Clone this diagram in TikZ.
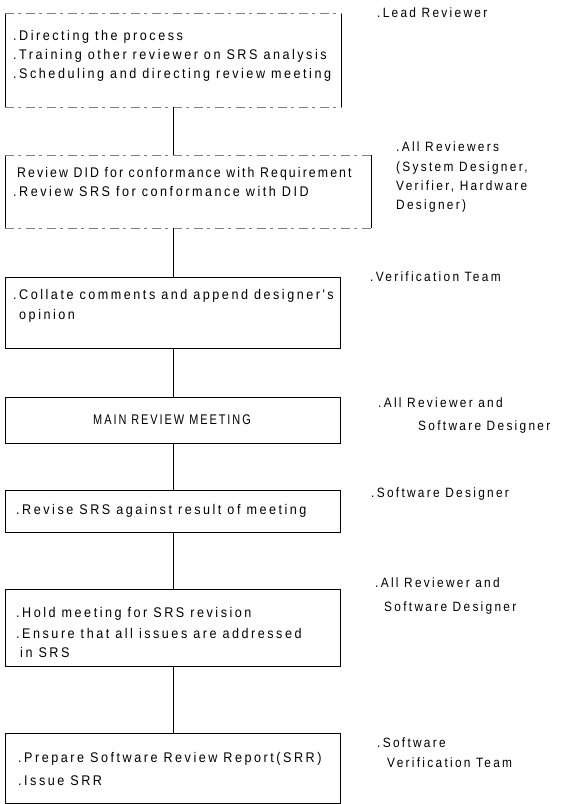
\documentclass[tikz,border=0pt]{standalone}
\usepackage{fontspec}
\newfontfamily\reff[FakeStretch=0.9,LetterSpace=18]{Liberation Sans}
\newfontfamily\refn[FakeStretch=0.88,LetterSpace=15]{Liberation Sans}
\newfontfamily\refl[FakeStretch=0.88,LetterSpace=17]{Liberation Sans}
\newfontfamily\refc[FakeStretch=0.78,LetterSpace=14]{Liberation Sans}
\begin{document}
\begin{tikzpicture}[x=1pt,y=-1pt,
  box/.style={draw, line width=0.8pt, anchor=north west, inner sep=0pt},
  openbox/.style={anchor=north west, inner sep=0pt},
  txt/.style={anchor=mid west, inner sep=0pt, yshift=-2pt, font=\reff\fontsize{14}{16}\selectfont},
  lbl/.style={anchor=mid west, inner sep=0pt, yshift=-2pt, font=\refl\fontsize{13.5}{16}\selectfont},
  link/.style={line width=0.8pt},
  brk/.style={line width=0.6pt, gray, dash pattern=on 9pt off 4pt on 3pt off 5pt}]
\useasboundingbox (0,0) rectangle (561,804);
% boxes
\node[openbox, minimum width=336, minimum height=94] (b1) at (5,13) {};
\draw[link] (b1.north west) -- (b1.south west);
\draw[link] (b1.north east) -- (b1.south east);
\draw[brk] (b1.north west) -- (b1.north east);
\draw[brk] (b1.south west) -- (b1.south east);
\node[openbox, minimum width=366, minimum height=73] (b2) at (5,155) {};
\draw[link] (b2.north west) -- (b2.south west);
\draw[link] (b2.north east) -- (b2.south east);
\draw[brk] (b2.north west) -- (b2.north east);
\draw[brk] (b2.south west) -- (b2.south east);
\node[box, minimum width=335, minimum height=71] (b3) at (5,277) {};
\node[box, minimum width=335, minimum height=46] (b4) at (5,397) {};
\node[box, minimum width=335, minimum height=42] (b5) at (5,490) {};
\node[box, minimum width=335, minimum height=77] (b6) at (5,589) {};
\node[box, minimum width=335, minimum height=70] (b7) at (5,733) {};
% box texts
\node[txt] (t1a) at (13,36) {.Directing the process};
\node[txt] (t1b) at (13,55) {.Training other reviewer on SRS analysis};
\node[txt] (t1c) at (13,74) {.Scheduling and directing review meeting};
\node[txt, font=\refn\fontsize{14}{16}\selectfont] (t2a) at (17,173) {Review DID for conformance with Requirement};
\node[txt] (t2b) at (13,192) {.Review SRS for conformance with DID};
\node[txt] (t3a) at (13,295) {.Collate comments and append designer's};
\node[txt] (t3b) at (19,315) {opinion};
\node[anchor=mid, inner sep=0pt, yshift=-2pt, font=\refc\fontsize{14}{16}\selectfont] (t4) at (172,420) {MAIN REVIEW MEETING};
\node[txt] (t5) at (16,510) {.Revise SRS against result of meeting};
\node[txt] (t6a) at (16,613) {.Hold meeting for SRS revision};
\node[txt] (t6b) at (16,634) {.Ensure that all issues are addressed};
\node[txt] (t6c) at (20,653) {in SRS};
\node[txt] (t7a) at (18,758) {.Prepare Software Review Report(SRR)};
\node[txt] (t7b) at (18,781) {.Issue SRR};
% connectors
\coordinate (cx) at (173,0);
\draw[link] (b1.south -| cx) -- (b2.north -| cx);
\draw[link] (b2.south -| cx) -- (b3.north -| cx);
\draw[link] (b3.south -| cx) -- (b4.north -| cx);
\draw[link] (b4.south -| cx) -- (b5.north -| cx);
\draw[link] (b5.south -| cx) -- (b6.north -| cx);
\draw[link] (b6.south -| cx) -- (b7.north -| cx);
% labels
\node[lbl] (l1) at (377,13) {.Lead Reviewer};
\node[lbl] (l2a) at (396,147) {.All Reviewers};
\node[lbl] (l2b) at (396,167) {(System Designer,};
\node[lbl] (l2c) at (396,186) {Verifier, Hardware};
\node[lbl] (l2d) at (396,205) {Designer)};
\node[lbl] (l3) at (370,277) {.Verification Team};
\node[lbl] (l4a) at (378,403) {.All Reviewer and};
\node[lbl] (l4b) at (418,426) {Software Designer};
\node[lbl] (l5) at (371,493) {.Software Designer};
\node[lbl] (l6a) at (375,583) {.All Reviewer and};
\node[lbl] (l6b) at (384,607) {Software Designer};
\node[lbl] (l7a) at (377,743) {.Software};
\node[lbl] (l7b) at (387,763) {Verification Team};
\end{tikzpicture}
\end{document}
